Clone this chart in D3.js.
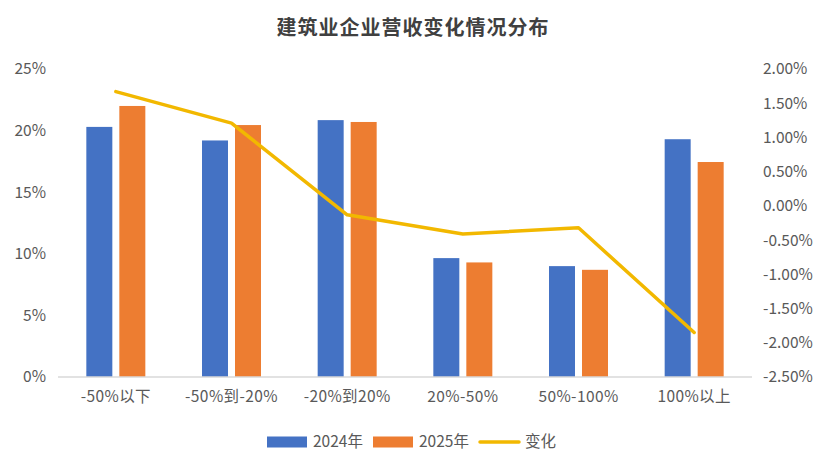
<!DOCTYPE html>
<html>
<head>
<meta charset="utf-8">
<script src="https://cdn.jsdelivr.net/npm/d3@7"></script>
<style>
  body { margin: 0; background: #fff; }
  text { font-family: "Noto Sans CJK SC", "Noto Sans", sans-serif; }
</style>
</head>
<body>
<div id="chart"></div>
<script>
const categories = ["-50%以下", "-50%到-20%", "-20%到20%", "20%-50%", "50%-100%", "100%以上"];
const values2024 = [20.3, 19.2, 20.85, 9.65, 9.0, 19.3];
const values2025 = [22.0, 20.45, 20.7, 9.3, 8.7, 17.45];
const change = [1.67, 1.21, -0.13, -0.41, -0.32, -1.85];
const leftTicks = [0, 5, 10, 15, 20, 25];
const rightTicks = [-2.5, -2, -1.5, -1, -0.5, 0, 0.5, 1, 1.5, 2];
const seriesNames = ["2024年", "2025年", "变化"];

const W = 828, H = 471;
const margin = { top: 69, right: 76, bottom: 94, left: 58 };
const innerW = W - margin.left - margin.right, innerH = H - margin.top - margin.bottom;
const fontSize = "15.5px", textColor = "#595959";

const svg = d3.select("#chart").append("svg").attr("width", W).attr("height", H);

// ---- title ----
svg.append("text").attr("x", 413).attr("y", 35).attr("text-anchor", "middle")
  .style("font-size", "20px").style("font-weight", "700").style("fill", "#404040")
  .style("letter-spacing", "1px")
  .text("建筑业企业营收变化情况分布");

const g = svg.append("g").attr("transform", `translate(${margin.left},${margin.top})`);

const x = d3.scaleBand().domain(categories).range([0, innerW]);
const y = d3.scaleLinear().domain([0, 25]).range([innerH, 0]);
const y2 = d3.scaleLinear().domain([-2.5, 2]).range([innerH, 0]);

const barW = 26, barGap = 7;

// ---- axes ----
const leftAxis = g.append("g")
  .call(d3.axisLeft(y).tickValues(leftTicks).tickFormat(d => d + "%").tickSize(0).tickPadding(12));
leftAxis.select(".domain").remove();
leftAxis.selectAll("text").style("font-size", fontSize).style("fill", textColor);

const rightAxis = g.append("g").attr("transform", `translate(${innerW},0)`)
  .call(d3.axisRight(y2).tickValues(rightTicks).tickFormat(d => d.toFixed(2) + "%").tickSize(0).tickPadding(11));
rightAxis.select(".domain").remove();
rightAxis.selectAll("text").style("font-size", fontSize).style("fill", textColor);

// ---- bars ----
g.selectAll(".bar24").data(categories).enter().append("rect")
  .attr("x", d => x(d) + x.bandwidth() / 2 - barGap / 2 - barW)
  .attr("y", (d, i) => y(values2024[i]))
  .attr("width", barW)
  .attr("height", (d, i) => innerH - y(values2024[i]))
  .attr("fill", "#4472C4");

g.selectAll(".bar25").data(categories).enter().append("rect")
  .attr("x", d => x(d) + x.bandwidth() / 2 + barGap / 2)
  .attr("y", (d, i) => y(values2025[i]))
  .attr("width", barW)
  .attr("height", (d, i) => innerH - y(values2025[i]))
  .attr("fill", "#ED7D31");

// baseline
g.append("line").attr("x1", 0).attr("x2", innerW).attr("y1", innerH).attr("y2", innerH)
  .attr("stroke", "#d9d9d9").attr("stroke-width", 1.5);

const bottomAxis = g.append("g").attr("transform", `translate(0,${innerH})`)
  .call(d3.axisBottom(x).tickSize(0).tickPadding(14));
bottomAxis.select(".domain").remove();
bottomAxis.selectAll("text").style("font-size", fontSize).style("fill", textColor)
  .style("letter-spacing", "0.4px");

// ---- line ----
const line = d3.line().x((d, i) => x(categories[i]) + x.bandwidth() / 2).y(d => y2(d));
g.append("path").datum(change).attr("fill", "none").attr("stroke", "#F2B800")
  .attr("stroke-width", 3.5).attr("stroke-linejoin", "round").attr("stroke-linecap", "round")
  .attr("d", line);

// ---- legend ----
const legend = svg.append("g").attr("transform", "translate(0,442)");
const legendItems = [
  { name: seriesNames[0], color: "#4472C4", type: "rect", x: 267, tx: 313 },
  { name: seriesNames[1], color: "#ED7D31", type: "rect", x: 373, tx: 419 },
  { name: seriesNames[2], color: "#F2B800", type: "line", x: 479, tx: 525 }
];
legendItems.forEach(it => {
  if (it.type === "rect") {
    legend.append("rect").attr("x", it.x).attr("y", -5.5).attr("width", 40).attr("height", 11).attr("fill", it.color);
  } else {
    legend.append("line").attr("x1", it.x + 1).attr("x2", it.x + 40).attr("y1", 0).attr("y2", 0)
      .attr("stroke", it.color).attr("stroke-width", 3.5).attr("stroke-linecap", "round");
  }
  legend.append("text").attr("x", it.tx).attr("y", 0).attr("dy", "0.35em")
    .style("font-size", fontSize).style("fill", textColor).text(it.name);
});
</script>
</body>
</html>
